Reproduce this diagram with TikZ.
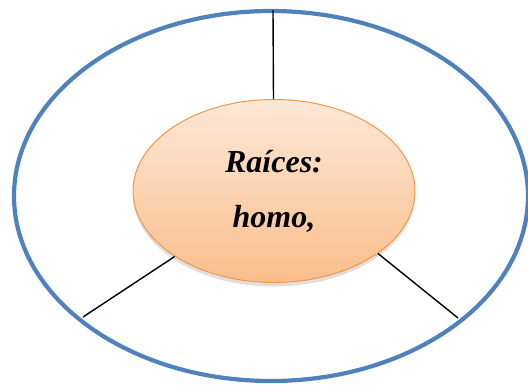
\documentclass[tikz,border=0pt]{standalone}
\usepackage{fontspec}
\setmainfont{Liberation Serif}
\usetikzlibrary{shapes.geometric,shadows}

\definecolor{ringblue}{RGB}{79,129,189}
\definecolor{rootline}{RGB}{247,150,70}
\definecolor{roottop}{RGB}{253,232,215}
\definecolor{rootbottom}{RGB}{251,190,140}

\tikzstyle{ring} = [draw=ringblue,line width=4.2pt]
\tikzstyle{rootnode} = [ellipse,draw=rootline,line width=1pt,
	top color=roottop,bottom color=rootbottom,
	minimum width=282pt,minimum height=183pt,inner sep=0pt,align=center,
	font=\fontsize{32}{55}\selectfont\bfseries\itshape,
	drop shadow={shadow xshift=0pt,shadow yshift=-4pt,opacity=0.25,fill=black!50}]
\tikzstyle{branch} = [line width=1.4pt]

\begin{document}
\begin{tikzpicture}[x=1pt,y=-1pt]
	\useasboundingbox (0,0) rectangle (528,384);
	\draw[ring] (271,196) ellipse (257 and 185);
	\node[rootnode] (root) at (274,191) {Raíces:\\homo,};
	\coordinate (tp) at (273,10);
	\coordinate (bl) at (83,317);
	\coordinate (br) at (458,318);
	\draw[branch] (root) -- (tp);
	\draw[branch] (root) -- (bl);
	\draw[branch] (root.329) -- (br);
\end{tikzpicture}
\end{document}
